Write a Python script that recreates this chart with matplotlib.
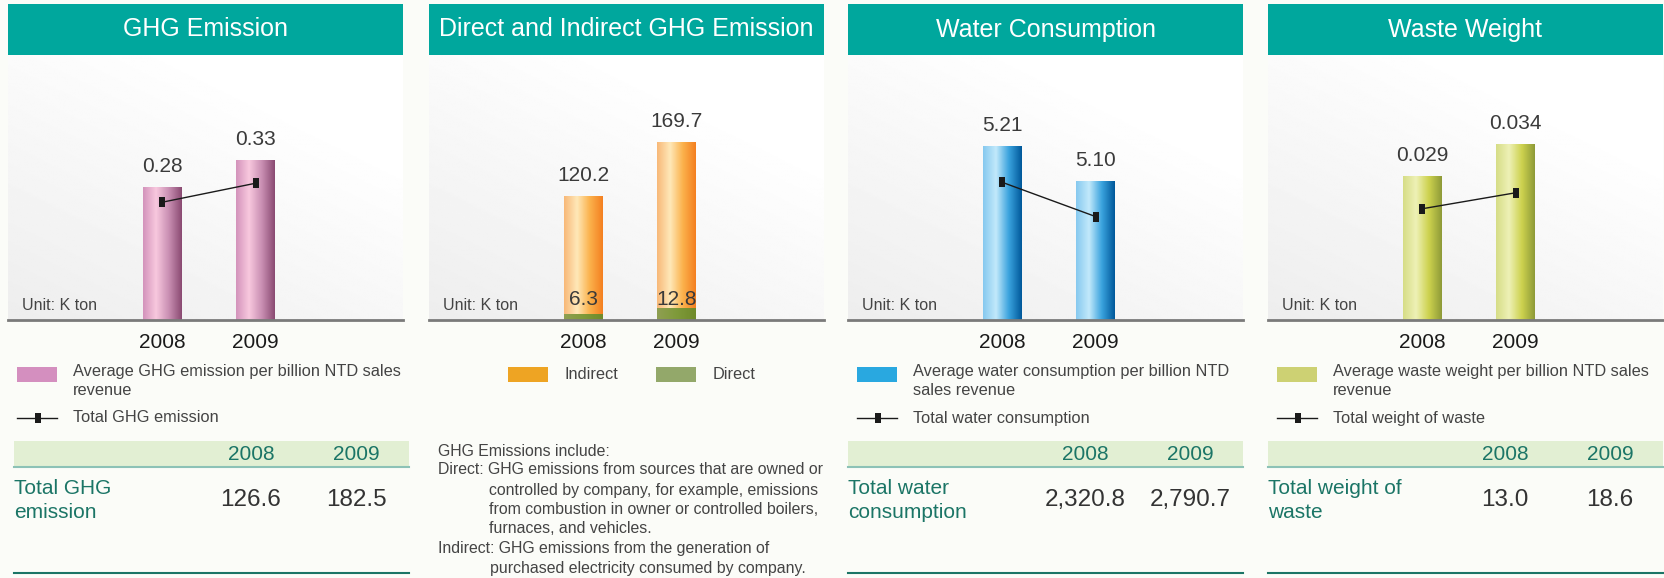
import numpy as np
import matplotlib
matplotlib.use("Agg")
import matplotlib.pyplot as plt
from matplotlib.colors import LinearSegmentedColormap
from matplotlib.patches import Rectangle
from matplotlib.lines import Line2D

plt.rcParams['font.family'] = ['Liberation Sans', 'DejaVu Sans']

# data
years = ['2008', '2009']
ghg_intensity = [0.28, 0.33]
ghg_total = [126.6, 182.5]
indirect = [120.2, 169.7]
direct = [6.3, 12.8]
water_intensity = [5.21, 5.10]
water_total = [2320.8, 2790.7]
waste_intensity = [0.029, 0.034]
waste_total = [13.0, 18.6]

titles = ['GHG Emission', 'Direct and Indirect GHG Emission',
          'Water Consumption', 'Waste Weight']
bar_legend = ['Average GHG emission per billion NTD sales\nrevenue', None,
              'Average water consumption per billion NTD\nsales revenue',
              'Average waste weight per billion NTD sales\nrevenue']
line_legend = ['Total GHG emission', None, 'Total water consumption',
               'Total weight of waste']
row_labels = ['Total GHG\nemission', None, 'Total water\nconsumption',
              'Total weight of\nwaste']
notes = ['GHG Emissions include:',
         'Direct: GHG emissions from sources that are owned or',
         'controlled by company, for example, emissions',
         'from combustion in owner or controlled boilers,',
         'furnaces, and vehicles.',
         'Indirect: GHG emissions from the generation of',
         'purchased electricity consumed by company.']

W, H = 1664, 578
fig = plt.figure(figsize=(W / 100, H / 100), dpi=100, facecolor='#fbfcf8')

TEAL = '#00a79d'
DKGREEN = '#1b7566'
GREY = '#444444'


def fx(x):
    return x / W


def fy(y):
    return 1 - y / H


def frect(x0, y0, x1, y1, color, z=1):
    fig.add_artist(Rectangle((fx(x0), fy(y1)), fx(x1) - fx(x0), fy(y0) - fy(y1),
                             transform=fig.transFigure, facecolor=color,
                             edgecolor='none', zorder=z))


def fline(x0, x1, y, color, lw):
    fig.add_artist(Line2D([fx(x0), fx(x1)], [fy(y), fy(y)], transform=fig.transFigure,
                          color=color, lw=lw))


def shade(ax, bars, colors):
    # horizontal gradient over each bar, cut at the axis floor
    cmap = LinearSegmentedColormap.from_list('b', colors)
    grad = np.linspace(0, 1, 128)[None, :]
    floor = ax.get_ylim()[0]
    for b in bars:
        y0 = max(b.get_y(), floor)
        y1 = b.get_y() + b.get_height()
        ax.imshow(grad, cmap=cmap, aspect='auto', zorder=2,
                  extent=[b.get_x(), b.get_x() + b.get_width(), y0, y1])


marker = [(-0.3, -0.5), (0.3, -0.5), (0.3, 0.5), (-0.3, 0.5), (-0.3, -0.5)]

panel_x = [8, 429, 848, 1268]
pw = 395
xs = np.arange(len(years))
xlim = (-154 / 93.5, (pw - 154) / 93.5)

bg = np.linspace(0, 1, 200)
gx, gy = np.meshgrid(bg, bg[::-1])
bg_img = 0.93 + 0.07 * np.clip(0.55 * gx + 0.75 * gy, 0, 1)

axes = []
for i, x0 in enumerate(panel_x):
    # header
    frect(x0, 4, x0 + pw, 55, TEAL)
    fig.text(fx(x0 + pw / 2), fy(29.5), titles[i], color='white', fontsize=18,
             ha='center', va='center')
    ax = fig.add_axes([fx(x0), fy(320), pw / W, 265 / H])
    ax.imshow(bg_img, cmap='gray', vmin=0, vmax=1, aspect='auto', zorder=0,
              extent=[0, 1, 0, 1], transform=ax.transAxes)
    for s in ['top', 'left', 'right']:
        ax.spines[s].set_visible(False)
    ax.spines['bottom'].set_color('#7a7a7a')
    ax.spines['bottom'].set_linewidth(2)
    ax.set_yticks([])
    ax.set_xticks(xs, years)
    ax.tick_params(axis='x', length=0, pad=9, labelsize=15, labelcolor='#1a1a1a')
    ax.text(14 / pw, 14 / 265, 'Unit: K ton', transform=ax.transAxes, fontsize=11.5,
            color=GREY, va='center', ha='left')
    ax.set_xlim(xlim)
    axes.append(ax)

bw = 39 / 93.5
lab_kw = dict(textcoords='offset points', ha='center', va='center', fontsize=15,
              color='#3a3a3a', zorder=5)

# panels 1, 3, 4: intensity bars + total line
panels = [(0, ghg_intensity, ghg_total, (0.0343, 0.525), (-219.7, 559.7),
           ['#d393bb', '#f8c8de', '#c98fb3', '#8a4a72'], '#d48fbf', '{:.2f}'),
          (2, water_intensity, water_total, (4.66, 5.50), (4208, 578),
           ['#86c9ef', '#c2e9fb', '#3aa3de', '#00589a'], '#29a8e0', '{:.2f}'),
          (3, waste_intensity, waste_total, (0.0063, 0.0481), (-25.9, 66.8),
           ['#d6dd86', '#eef1b6', '#cdd24e', '#8e9a38'], '#cdd173', '{:.3f}')]

for i, vals, tot, ylim, tylim, cols, lcol, fmt in panels:
    ax = axes[i]
    ax.set_ylim(ylim)
    bars = ax.bar(xs, vals, width=bw, color=cols[2], zorder=1)
    shade(ax, bars, cols)
    for x, v in zip(xs, vals):
        ax.annotate(fmt.format(v), (x, v), xytext=(0, 15), **lab_kw)
    ax.set_xlim(xlim)
    ax.set_ylim(ylim)
    tx = ax.twinx()
    tx.plot(xs, tot, color='#1a1a1a', lw=1, marker=marker, markersize=7.2,
            markerfacecolor='#1a1a1a', markeredgewidth=0, zorder=6)
    tx.set_ylim(tylim)
    tx.set_xlim(xlim)
    tx.axis('off')

    x0 = panel_x[i]
    # legend
    frect(x0 + 9, 367, x0 + 49, 382, lcol)
    fig.text(fx(x0 + 65), fy(364), bar_legend[i], fontsize=11.8, color=GREY,
             va='top', ha='left', linespacing=1.3)
    fline(x0 + 9, x0 + 49, 418, '#1a1a1a', 1)
    fig.add_artist(Line2D([fx(x0 + 30)], [fy(418)], transform=fig.transFigure,
                          color='#1a1a1a', lw=0, marker=marker, markersize=7.2,
                          markeredgewidth=0))
    fig.text(fx(x0 + 65), fy(418), line_legend[i], fontsize=11.8, color=GREY,
             va='center', ha='left')

    # table
    t0 = x0 + 6 if i == 0 else x0
    frect(t0, 441, t0 + pw, 467, '#e2efd3')
    fline(t0, t0 + pw, 467, '#8cc2b6', 1.5)
    fline(t0, t0 + pw, 573, DKGREEN, 1.5)
    for k, yr in enumerate(years):
        fig.text(fx(t0 + 237 + 105 * k), fy(454), yr, fontsize=15, color=DKGREEN,
                 ha='center', va='center')
        fig.text(fx(t0 + 237 + 105 * k), fy(500), '{:,.1f}'.format(tot[k]),
                 fontsize=17.5, color='#333333', ha='center', va='center')
    fig.text(fx(t0), fy(479), row_labels[i], fontsize=15, color=DKGREEN,
             ha='left', va='top', linespacing=1.3)

# panel 2: stacked direct / indirect
ax = axes[1]
ax.set_ylim(0, 272)
b_dir = ax.bar(xs, direct, width=bw, color='#859a45', zorder=1)
shade(ax, b_dir, ['#8f9f52', '#7f9a3a', '#6f8a2a'])
b_ind = ax.bar(xs, indirect, width=bw, bottom=direct, color='#fbb24c', zorder=1)
shade(ax, b_ind, ['#f8b878', '#ffe8b8', '#fbb24c', '#f47f20'])
for x, d, v in zip(xs, direct, indirect):
    ax.annotate('{:.1f}'.format(v), (x, d + v), xytext=(0, 15), **lab_kw)
    ax.annotate('{:.1f}'.format(d), (x, 0), xytext=(0, 15), **lab_kw)
ax.set_xlim(xlim)
ax.set_ylim(0, 272)

frect(508, 367, 548, 382, '#eea423')
fig.text(fx(565), fy(374.5), 'Indirect', fontsize=11.8, color=GREY, va='center')
frect(656, 367, 696, 382, '#93a86a')
fig.text(fx(713), fy(374.5), 'Direct', fontsize=11.8, color=GREY, va='center')

note_y = [451, 470, 491, 510, 528.5, 549, 569]
note_x = [438, 438, 489, 489, 489, 438, 490]
for s, xx, yy in zip(notes, note_x, note_y):
    fig.text(fx(xx), fy(yy), s, fontsize=11.4, color=GREY, va='center')

fig.savefig('out.png', dpi=100, facecolor=fig.get_facecolor())
